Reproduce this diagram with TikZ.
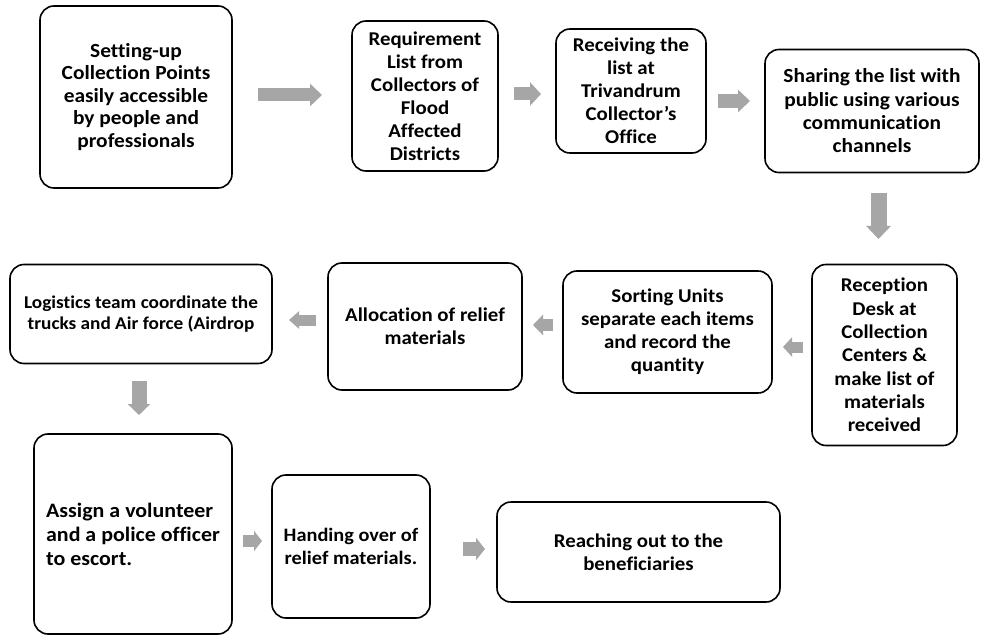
\documentclass[tikz,border=0pt]{standalone}
\usepackage{fontspec}
\setmainfont{Carlito}[FakeStretch=1.07, Ligatures=NoCommon, RawFeature={-liga;-dlig}]
\usetikzlibrary{arrows.meta}
\definecolor{arrowgray}{HTML}{A6A6A6}
\tikzset{
  box/.style={draw=black, line width=1.6pt, rounded corners=14pt, fill=white,
    align=center, inner sep=0pt, font=\fontsize{19.5}{22.5}\selectfont\bfseries},
  blk/.style n args={3}{draw=arrowgray, line width=#1, -{Triangle[width=#2,length=#3]}}
}
\begin{document}
\begin{tikzpicture}[x=1pt,y=-1pt]
\useasboundingbox (0,0) rectangle (982,636);
\fill[white] (0,0) rectangle (982,636);

\node[box, minimum width=192pt, minimum height=182pt, font=\fontsize{20}{22.5}\selectfont\bfseries] (b1) at (136,97)
  {Setting-up\\Collection Points\\easily accessible\\by people and\\professionals};
\node[box, minimum width=146pt, minimum height=150pt, font=\fontsize{19.5}{23}\selectfont\bfseries] (b2) at (425,96)
  {Requirement\\List from\\Collectors of\\Flood\\Affected\\Districts};
\node[box, minimum width=150pt, minimum height=124pt, font=\fontsize{19.5}{23}\selectfont\bfseries] (b3) at (631,91)
  {Receiving the\\list at\\Trivandrum\\Collector’s\\Office};
\node[box, minimum width=214pt, minimum height=123pt, font=\fontsize{20}{23.3}\selectfont\bfseries] (b4) at (872,111)
  {Sharing the list with\\public using various\\communication\\channels};

\node[box, minimum width=145pt, minimum height=181pt, font=\fontsize{19.5}{23.3}\selectfont\bfseries] (b5) at (884.5,355)
  {Reception\\Desk at\\Collection\\Centers \&\\make list of\\materials\\received};
\node[box, minimum width=209pt, minimum height=122pt, font=\fontsize{19.5}{23}\selectfont\bfseries] (b6) at (667.5,332)
  {Sorting Units\\separate each items\\and record the\\quantity};
\node[box, minimum width=194pt, minimum height=127pt, font=\fontsize{19.5}{23}\selectfont\bfseries] (b7) at (425,326.5)
  {Allocation of relief\\materials};
\node[box, minimum width=262pt, minimum height=99pt, font=\fontsize{18}{20.5}\selectfont\bfseries] (b8) at (141,314)
  {Logistics team coordinate the\\trucks and Air force (Airdrop};

\node[box, minimum width=198pt, minimum height=200pt, align=left, font=\fontsize{20.5}{24}\selectfont\bfseries] (b9) at (133,534)
  {Assign a volunteer\\and a police officer\\to escort.};
\node[box, minimum width=158pt, minimum height=143pt, font=\fontsize{19}{22.5}\selectfont\bfseries] (b10) at (351,546.5)
  {Handing over of\\relief materials.};
\node[box, minimum width=283pt, minimum height=100pt, font=\fontsize{19.5}{22.5}\selectfont\bfseries] (b11) at (638.5,552)
  {Reaching out to the\\beneficiaries};

% arrow end points
\coordinate (a1s) at (258,95);   \coordinate (a1e) at (322,95);
\coordinate (a2s) at (514,94);   \coordinate (a2e) at (541,94);
\coordinate (a3s) at (718,101);  \coordinate (a3e) at (750,101);
\coordinate (a4s) at (878.5,193);\coordinate (a4e) at (878.5,239);
\coordinate (a5s) at (803,347);  \coordinate (a5e) at (783,347);
\coordinate (a6s) at (553,325);  \coordinate (a6e) at (533,325);
\coordinate (a7s) at (316,320);  \coordinate (a7e) at (289,320);
\coordinate (a8s) at (139,381);  \coordinate (a8e) at (139,415);
\coordinate (a9s) at (243,541);  \coordinate (a9e) at (262,541);
\coordinate (a10s) at (463,549); \coordinate (a10e) at (485,549);

\draw[blk={13pt}{22pt}{12pt}] (a1s) -- (a1e);
\draw[blk={13pt}{23pt}{11pt}] (a2s) -- (a2e);
\draw[blk={14pt}{22pt}{12pt}] (a3s) -- (a3e);
\draw[blk={16pt}{24pt}{13pt}] (a4s) -- (a4e);
\draw[blk={11pt}{19pt}{9pt}] (a5s) -- (a5e);
\draw[blk={12pt}{20pt}{10pt}] (a6s) -- (a6e);
\draw[blk={11pt}{17pt}{10pt}] (a7s) -- (a7e);
\draw[blk={15pt}{22pt}{11pt}] (a8s) -- (a8e);
\draw[blk={12pt}{20pt}{8pt}] (a9s) -- (a9e);
\draw[blk={14pt}{22pt}{9pt}] (a10s) -- (a10e);
\end{tikzpicture}
\end{document}
